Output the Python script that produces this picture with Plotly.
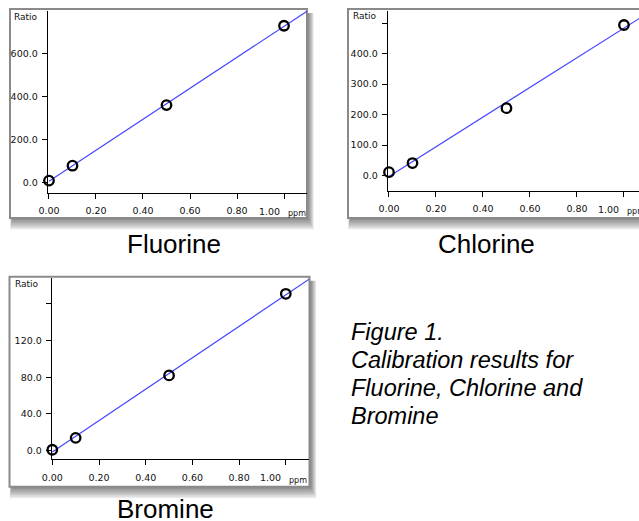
import numpy as np
import plotly.graph_objects as go

W, H = 639, 521

# ---------------- data ----------------
conc_ppm = [0.0, 0.1, 0.5, 1.0]
fluorine_ratio = [10, 79, 361, 730]
chlorine_ratio = [11, 41, 221, 494]
bromine_ratio = [1, 14, 82, 171]

x_tickvals = [0.0, 0.2, 0.4, 0.6, 0.8, 1.0]
x_ticktext = ["0.00", "0.20", "0.40", "0.60", "0.80", "1.00"]

fl_tickvals = [0, 200, 400, 600]
fl_ticktext = ["0.0", "200.0", "400.0", "600.0"]
cl_tickvals = [0, 100, 200, 300, 400, 500]
cl_ticktext = ["0.0", "100.0", "200.0", "300.0", "400.0", ""]
br_tickvals = [0, 40, 80, 120, 160]
br_ticktext = ["0.0", "40.0", "80.0", "120.0", ""]

panel_names = ["Fluorine", "Chlorine", "Bromine"]
caption_lines = ["Figure 1.", "Calibration results for", "Fluorine, Chlorine and", "Bromine"]


def px(x):
    return x / W


def py(y):
    return 1 - y / H


fig = go.Figure()

# panel geometry (pixels): axis box, ranges, frame
panels = [
    dict(ratio=fluorine_ratio, tv=fl_tickvals, tt=fl_ticktext,
         ax=(47.7, 306.7), ay=(11, 193), xr=[-0.0055, 1.0966], yr=[-47.9, 798.6],
         frame=(10, 9, 307, 218), ratio_lbl=(12, 17), ppm_lbl=(286, 213.5),
         name_pos=(174, 244)),
    dict(ratio=chlorine_ratio, tv=cl_tickvals, tt=cl_ticktext,
         ax=(387.7, 639), ay=(11, 191), xr=[-0.0055, 1.064], yr=[-50.8, 540],
         frame=(348, 9, 652, 218), ratio_lbl=(351.5, 15.5), ppm_lbl=(625, 212),
         name_pos=(486, 244)),
    dict(ratio=bromine_ratio, tv=br_tickvals, tt=br_ticktext,
         ax=(51.7, 309.3), ay=(278, 459.3), xr=[-0.0026, 1.1006], yr=[-9.4, 188.2],
         frame=(9.5, 276.7, 309.5, 486.7), ratio_lbl=(12.5, 283.5), ppm_lbl=(287, 480),
         name_pos=(166, 509)),
]

shapes = []
annotations = []
tickfont = dict(family="DejaVu Sans", size=9.5, color="#111111")

for i, p in enumerate(panels):
    n = "" if i == 0 else str(i + 1)
    xa, ya = "x" + n, "y" + n
    # regression line
    slope, icpt = np.polyfit(conc_ppm, p["ratio"], 1)
    lx = [0.0, 1.15]
    ly = [icpt + slope * v for v in lx]
    fig.add_trace(go.Scatter(x=lx, y=ly, mode="lines", xaxis=xa, yaxis=ya,
                             line=dict(color="#4646ff", width=1.2), showlegend=False,
                             hoverinfo="skip"))
    fig.add_trace(go.Scatter(x=conc_ppm, y=p["ratio"], mode="markers", xaxis=xa, yaxis=ya,
                             marker=dict(symbol="circle-open", size=9.5, color="black",
                                         line=dict(width=2.3, color="black")),
                             cliponaxis=False, showlegend=False))
    x0, x1 = p["ax"]
    y0, y1 = p["ay"]
    # last x label is drawn shifted left (beside "ppm"), so leave it blank on the axis
    xt = x_ticktext[:-1] + [""]
    fig.layout["xaxis" + n] = dict(
        domain=[px(x0), min(px(x1), 1.0)], range=p["xr"], anchor=ya,
        showline=True, linecolor="black", linewidth=1, showgrid=False, zeroline=False,
        ticks="outside", ticklen=5, tickcolor="black", tickwidth=1,
        tickvals=x_tickvals, ticktext=xt, tickfont=tickfont,
        ticklabelstandoff=4, ticklabeloverflow="allow", automargin=False,
        fixedrange=True)
    fig.layout["yaxis" + n] = dict(
        domain=[py(y1), py(y0)], range=p["yr"], anchor=xa,
        showline=True, linecolor="black", linewidth=1, showgrid=False, zeroline=False,
        ticks="outside", ticklen=5, tickcolor="black", tickwidth=1,
        tickvals=p["tv"], ticktext=p["tt"], tickfont=tickfont,
        ticklabelstandoff=2, ticklabeloverflow="allow", automargin=False,
        fixedrange=True)

    annotations.append(dict(text=x_ticktext[-1], xref=xa, yref="paper",
                            x=x_tickvals[-1], y=py(y1 + 18.5), xshift=-15,
                            xanchor="center", yanchor="middle", showarrow=False,
                            font=tickfont))

    fx0, fy0, fx1, fy1 = p["frame"]
    # drop shadow
    for k in range(7):
        shapes.append(dict(type="rect", xref="paper", yref="paper", layer="below",
                           x0=px(fx0 + 2 - k * 0.3), x1=px(fx1 + 2 + k * 0.8),
                           y0=py(fy0 + 4), y1=py(fy1 + 2 + k * 1.6),
                           fillcolor="rgba(0,0,0,0.075)", line=dict(width=0)))
    # frame
    shapes.append(dict(type="rect", xref="paper", yref="paper", layer="below",
                       x0=px(fx0), x1=px(fx1), y0=py(fy0), y1=py(fy1),
                       fillcolor="white", line=dict(color="#8a8a8a", width=2)))

    annotations.append(dict(text="Ratio", xref="paper", yref="paper",
                            x=px(p["ratio_lbl"][0]), y=py(p["ratio_lbl"][1]),
                            xanchor="left", yanchor="middle", showarrow=False,
                            font=dict(family="DejaVu Sans", size=9, color="#111111")))
    annotations.append(dict(text="ppm", xref="paper", yref="paper",
                            x=px(p["ppm_lbl"][0]), y=py(p["ppm_lbl"][1]),
                            xanchor="left", yanchor="middle", showarrow=False,
                            font=dict(family="DejaVu Sans", size=8, color="#111111")))
    annotations.append(dict(text=panel_names[i], xref="paper", yref="paper",
                            x=px(p["name_pos"][0]), y=py(p["name_pos"][1]),
                            xanchor="center", yanchor="middle", showarrow=False,
                            font=dict(family="Liberation Sans, Arial", size=26, color="black")))

cap_y = [332, 360, 388, 416]
for txt, yy in zip(caption_lines, cap_y):
    annotations.append(dict(text="<i>" + txt + "</i>", xref="paper", yref="paper",
                            x=px(349), y=py(yy), xanchor="left", yanchor="middle",
                            showarrow=False,
                            font=dict(family="Liberation Sans, Arial", size=23.5, color="black")))

fig.update_layout(width=W, height=H, margin=dict(l=0, r=0, t=0, b=0, autoexpand=False),
                  paper_bgcolor="white", plot_bgcolor="rgba(0,0,0,0)",
                  shapes=shapes, annotations=annotations, showlegend=False)

fig.write_html("out.html", config={"displayModeBar": False},
               post_script="document.body.style.margin='0';document.body.style.padding='0';"
                           "document.documentElement.style.overflow='hidden';")
